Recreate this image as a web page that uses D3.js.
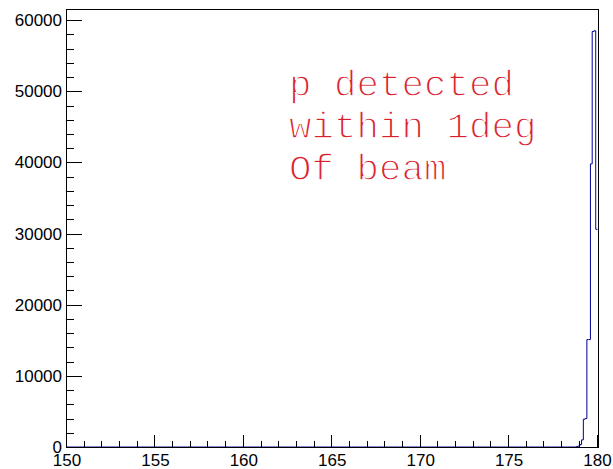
<!DOCTYPE html>
<html>
<head>
<meta charset="utf-8">
<script src="https://cdn.jsdelivr.net/npm/d3@7"></script>
<style>
  html, body { margin: 0; padding: 0; background: #fff; }
  svg { display: block; }
</style>
</head>
<body>
<svg id="chart" width="613" height="469"></svg>
<script>
// Histogram definition: 0.1 deg bins from 150 to 180
const histMin = 150;
const histMax = 180;
const binWidth = 0.1;

// Non-empty bins (lower edge, entries)
const binLows   = [178.8, 178.9, 179.0, 179.1, 179.2, 179.3, 179.4, 179.5, 179.6, 179.7, 179.8, 179.9];
const binCounts = [   60,   150,   350,  1000,  3900,  4000, 15100, 15100, 39800, 58400, 58500, 30600];

const xTicks = [150, 155, 160, 165, 170, 175, 180];
const yTicks = [0, 10000, 20000, 30000, 40000, 50000, 60000];

const labelLines = ["p detected", "within 1deg", "Of beam"];

// Frame geometry
const frame = { left: 67, right: 597.5, top: 10, bottom: 447 };

const svg = d3.select("#chart");

const yMax = d3.max(binCounts) * 1.05;
const x = d3.scaleLinear().domain([histMin, histMax]).range([frame.left, frame.right]);
const y = d3.scaleLinear().domain([0, yMax]).range([frame.bottom, frame.top]);

// Full bin table, empty bins at zero
const nBins = Math.round((histMax - histMin) / binWidth);
const bins = d3.range(nBins).map(i => {
  const lo = histMin + i * binWidth;
  const k = binLows.findIndex(v => Math.abs(v - lo) < 1e-6);
  return { lo, hi: lo + binWidth, n: k >= 0 ? binCounts[k] : 0 };
});

// Step outline
const pts = [];
bins.forEach(b => { pts.push([b.lo, b.n]); pts.push([b.hi, b.n]); });
const line = d3.line().x(d => x(d[0])).y(d => y(d[1]));

svg.append("path")
  .attr("d", line(pts))
  .attr("fill", "none")
  .attr("stroke", "#000099")
  .attr("stroke-width", 1);

// Frame
svg.append("rect")
  .attr("x", frame.left - 0.5).attr("y", frame.top - 0.5)
  .attr("width", frame.right - frame.left + 1).attr("height", frame.bottom - frame.top + 1)
  .attr("fill", "none").attr("stroke", "#000").attr("stroke-width", 1)
  .attr("shape-rendering", "crispEdges");

const axisFont = "'Liberation Sans', Arial, Helvetica, sans-serif";

// X axis: major ticks every 5, minor every 1
const xAxis = svg.append("g").attr("shape-rendering", "crispEdges");
d3.range(histMin, histMax + 0.001, 1).forEach(v => {
  const major = xTicks.includes(v);
  const len = major ? 13 : 6.5;
  xAxis.append("line")
    .attr("x1", Math.round(x(v)) - 0.5).attr("x2", Math.round(x(v)) - 0.5)
    .attr("y1", frame.bottom + 0.5).attr("y2", frame.bottom + 0.5 - len)
    .attr("stroke", "#000");
});
xTicks.forEach(v => {
  xAxis.append("text")
    .attr("x", x(v)).attr("y", 466)
    .attr("text-anchor", "middle")
    .attr("font-family", axisFont).attr("font-size", 17)
    .attr("fill", "#000")
    .text(d3.format("d")(v));
});

// Y axis: major ticks every 10000, minor every 2000
const yAxis = svg.append("g").attr("shape-rendering", "crispEdges");
d3.range(0, yMax, 2000).forEach(v => {
  const major = yTicks.includes(v);
  const len = major ? 15 : 7.5;
  yAxis.append("line")
    .attr("x1", frame.left - 0.5).attr("x2", frame.left - 0.5 + len)
    .attr("y1", Math.round(y(v)) + 0.5).attr("y2", Math.round(y(v)) + 0.5)
    .attr("stroke", "#000");
});
yTicks.forEach(v => {
  yAxis.append("text")
    .attr("x", 62).attr("y", y(v) + 6)
    .attr("text-anchor", "end")
    .attr("font-family", axisFont).attr("font-size", 17)
    .attr("fill", "#000")
    .text(d3.format("d")(v));
});

// Annotation (thin monospace strokes: a white outline trims the glyph weight)
const note = svg.append("text")
  .attr("font-family", "'Liberation Mono', 'Courier New', Courier, monospace")
  .attr("font-size", 37.5)
  .attr("fill", "#d8202c")
  .attr("stroke", "#fff")
  .attr("stroke-width", 1.3);
labelLines.forEach((t, i) => {
  note.append("tspan")
    .attr("x", 289).attr("y", 96 + i * 42)
    .attr("xml:space", "preserve")
    .text(t);
});
</script>
</body>
</html>
